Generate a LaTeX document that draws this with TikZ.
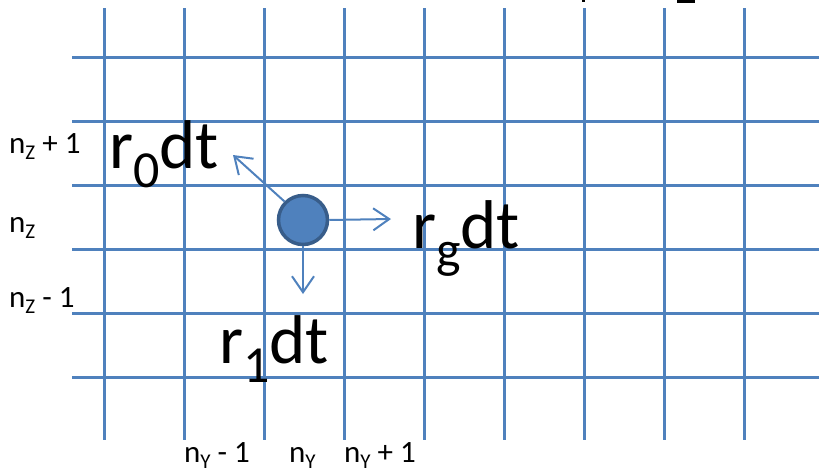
\documentclass[tikz,border=0pt]{standalone}
\usepackage{fontspec}
\setmainfont{Carlito}
\usetikzlibrary{arrows.meta}
\definecolor{gridblue}{HTML}{4F81BD}
\definecolor{darkblue}{HTML}{385D8A}
\newcommand\bigsub[1]{\raisebox{-19pt}{\fontsize{52}{52}\selectfont #1}}
\newcommand\smsub[1]{\raisebox{-6pt}{\fontsize{21}{21}\selectfont #1}}
\begin{document}
\begin{tikzpicture}[x=1pt,y=-1pt,
  gridline/.style={gridblue,line width=3pt},
  big/.style={inner sep=0pt,anchor=base west,font=\fontsize{69}{69}\selectfont},
  small/.style={inner sep=0pt,anchor=base west,font=\fontsize{31}{31}\selectfont},
  rate/.style={gridblue,line width=2pt,-{Straight Barb[length=16pt,width=22pt,line width=2pt]}}]
\useasboundingbox (0,0) rectangle (819,472);
\foreach \x in {104,184,...,744} \draw[gridline] (\x,8) -- (\x,440);
\foreach \y in {57,121,...,377} \draw[gridline] (72,\y) -- (819,\y);
\fill (582,0) rectangle (585,2);
\fill (677,0) rectangle (695,3);
\node[circle,fill=gridblue,draw=darkblue,line width=3.5pt,minimum size=49pt,inner sep=0pt] (p) at (303,220) {};
\coordinate (eg) at (391,219);
\coordinate (e1) at (303,294);
\coordinate (e0) at (233,155);
\draw[rate] (p.east) -- (eg);
\draw[rate] (p.south) -- (e1);
\draw[rate] (p.135) -- (e0);
\node[big] (t0) at (109,168) {r\bigsub{0}dt};
\node[big] (tg) at (412,248) {r\bigsub{g}dt};
\node[big] (t1) at (219,363) {r\bigsub{1}dt};
\node[small] (z1) at (9,153) {n\smsub{Z} + 1};
\node[small] (z0) at (9,232) {n\smsub{Z}};
\node[small] (zm) at (9,307) {n\smsub{Z} - 1};
\node[small] (ym) at (184,462) {n\smsub{Y} - 1};
\node[small] (y0) at (289,462) {n\smsub{Y}};
\node[small] (yp) at (344,462) {n\smsub{Y} + 1};
\end{tikzpicture}
\end{document}
